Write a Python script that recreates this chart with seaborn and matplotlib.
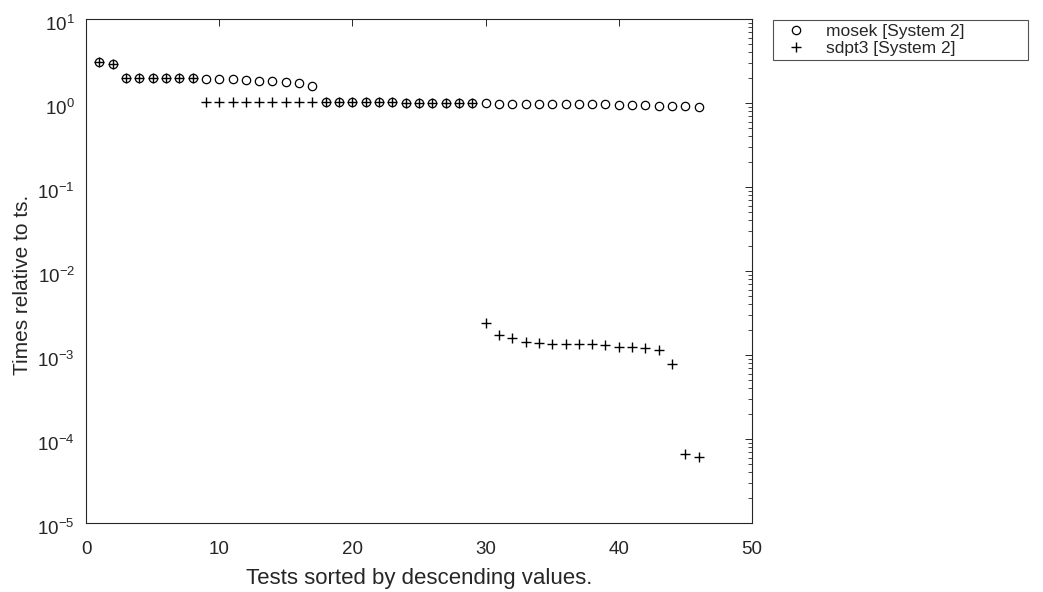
import numpy as np
import pandas as pd
import matplotlib
matplotlib.use("Agg")
import matplotlib.pyplot as plt
import matplotlib.transforms as mtransforms
import seaborn as sns
from matplotlib.ticker import LogLocator

tests = list(range(1, 47))
mosek = [3.1, 2.9, 1.97, 1.97, 1.97, 1.96, 1.96, 1.96,
         1.93, 1.92, 1.91, 1.87, 1.85, 1.83, 1.77, 1.72, 1.61,
         1.04, 1.04, 1.03, 1.03, 1.02, 1.02, 1.01, 1.01, 1.0, 1.0, 0.99, 0.99,
         0.99, 0.98, 0.98, 0.98, 0.97, 0.97, 0.97, 0.96, 0.96, 0.96, 0.95,
         0.95, 0.94, 0.93, 0.92, 0.91, 0.90]
sdpt3 = [3.05, 2.9, 1.97, 1.97, 1.97, 1.96, 1.96, 1.96,
         1.03, 1.03, 1.03, 1.03, 1.03, 1.03, 1.03, 1.03, 1.03,
         1.04, 1.04, 1.03, 1.03, 1.02, 1.02, 1.01, 1.01, 1.0, 1.0, 0.99, 0.99,
         2.40e-3, 1.73e-3, 1.59e-3, 1.43e-3, 1.39e-3, 1.35e-3, 1.35e-3, 1.35e-3,
         1.35e-3, 1.32e-3, 1.25e-3, 1.25e-3, 1.21e-3, 1.15e-3, 7.8e-4,
         6.6e-5, 6.1e-5]
series_names = ["mosek [System 2]", "sdpt3 [System 2]"]
xlabel = "Tests sorted by descending values."
ylabel = "Times relative to ts."

sns.set_style("white")
plt.rcParams['font.family'] = ['Liberation Sans', 'DejaVu Sans']
plt.rcParams['mathtext.fontset'] = 'custom'
plt.rcParams['mathtext.rm'] = 'Liberation Sans'
plt.rcParams['mathtext.it'] = 'Liberation Sans'
plt.rcParams['mathtext.bf'] = 'Liberation Sans'
text_color = "#262626"
edge_color = "#262626"

W, H = 1043, 592
fig = plt.figure(figsize=(W/100, H/100), dpi=100)
ax = fig.add_axes([86/W, 1-523/H, 666/W, 504/H])

df_m = pd.DataFrame({"x": tests, "y": mosek})
df_s = pd.DataFrame({"x": tests, "y": sdpt3})

sns.lineplot(data=df_m, x="x", y="y", ax=ax, linestyle="none", marker="o",
             markersize=6.0, markerfacecolor="none", markeredgecolor="black",
             markeredgewidth=0.9, color="black", label=series_names[0])
sns.lineplot(data=df_s, x="x", y="y", ax=ax, linestyle="none", marker="+",
             markersize=7, markeredgecolor="black", markeredgewidth=1.0,
             color="black", label=series_names[1])

ax.set_yscale("log")
ax.set_xlim(0, 50)
ax.set_ylim(1e-5, 1e1)
ax.set_xticks([0, 10, 20, 30, 40, 50])
ax.yaxis.set_major_locator(LogLocator(base=10, numticks=20))
ax.yaxis.set_minor_locator(LogLocator(base=10, subs=np.arange(2, 10), numticks=20))

for s in ax.spines.values():
    s.set_visible(True)
    s.set_color(edge_color)
    s.set_linewidth(0.8)

ax.tick_params(axis="both", which="both", direction="in", top=True, right=True,
               colors=edge_color, labelcolor=text_color)
ax.tick_params(axis="x", which="major", labelsize=13.5, pad=13)
ax.tick_params(axis="y", which="major", labelsize=13.5, pad=8)
ax.tick_params(axis="both", which="major", length=5, width=0.7)
ax.tick_params(axis="y", which="minor", length=3, width=0.6)

ax.set_xlabel(xlabel, fontsize=16, color=text_color, labelpad=7)
ax.set_ylabel(ylabel, fontsize=15, color=text_color)
ax.yaxis.set_label_coords((32-86)/666, (523-285)/504)

x0 = (773-86)/666
y1 = (523-20)/504
bw = (1028-773)/666
bh = (58-20)/504
leg = ax.legend(loc="upper left", bbox_to_anchor=(x0, y1-bh, bw, bh),
                mode="expand", borderaxespad=0, frameon=True, fancybox=False,
                fontsize=12.5, handlelength=2.3, handletextpad=0.55,
                borderpad=0.2, labelspacing=0.14)
leg.get_frame().set_edgecolor(edge_color)
leg.get_frame().set_linewidth(0.8)
for t in leg.get_texts():
    t.set_color(text_color)

fig.canvas.draw()
offset = mtransforms.ScaledTranslation(0, -4/100, fig.dpi_scale_trans)
for lab in ax.get_yticklabels():
    lab.set_transform(lab.get_transform() + offset)

fig.savefig("out.png", dpi=100)
